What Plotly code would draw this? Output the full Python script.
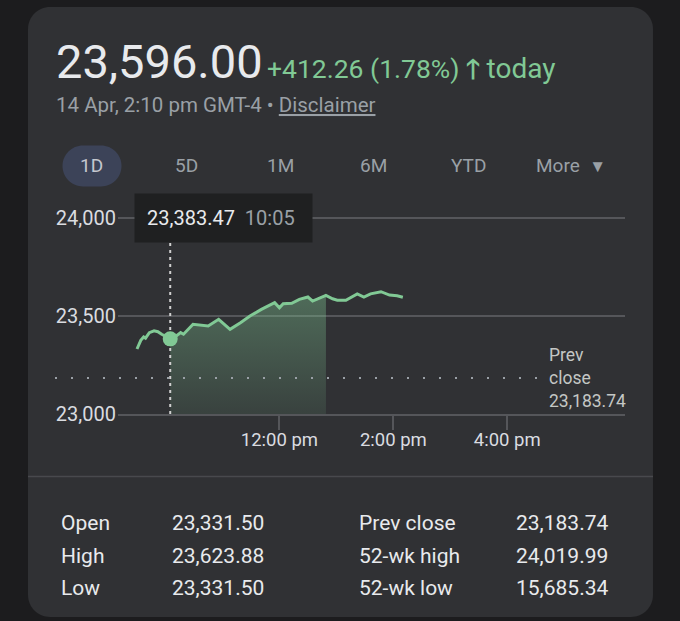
import plotly.graph_objects as go

W, H = 680, 621
FIG_H = 633  # page is photographed slightly taller than the window; paper fractions stay the same
DAY = "2025-04-14"

# ---------------- data ----------------
times = ["09:30", "09:34", "09:37", "09:39", "09:43", "09:48", "09:52", "09:56",
         "10:05", "10:10", "10:16", "10:19", "10:29", "10:37", "10:45", "10:56",
         "11:08", "11:19", "11:26", "11:29", "11:41", "11:55", "12:00", "12:04",
         "12:13", "12:21", "12:30", "12:35", "12:49", "12:56", "13:01", "13:10",
         "13:22", "13:29", "13:36", "13:47", "13:56", "14:04", "14:10"]
values = [23331.50, 23376, 23393, 23387, 23415, 23424, 23420, 23407,
          23383.47, 23393, 23415, 23407, 23458, 23454, 23449, 23483,
          23432, 23466, 23491, 23500, 23534, 23568, 23542, 23563,
          23565, 23585, 23597, 23576, 23605, 23588, 23581, 23580,
          23613, 23597, 23613, 23623.88, 23607, 23603, 23596.00]

hover_time = "10:05"
hover_value = 23383.47
sel_end_time = "12:49"
prev_close = 23183.74

y_ticks = [23000, 23500, 24000]
y_tick_labels = ["23,000", "23,500", "24,000"]
x_ticks = ["12:00", "14:00", "16:00"]
x_tick_labels = ["12:00 pm", "2:00 pm", "4:00 pm"]
x_range = ["09:10", "18:04"]
y_range = [23000, 24050]

price = "23,596.00"
change = "+412.26 (1.78%)"
timestamp = "14 Apr, 2:10 pm GMT-4"
tabs = ["1D", "5D", "1M", "6M", "YTD", "More"]
stat_labels_left = ["Open", "High", "Low"]
stat_values_left = ["23,331.50", "23,623.88", "23,331.50"]
stat_labels_right = ["Prev close", "52-wk high", "52-wk low"]
stat_values_right = ["23,183.74", "24,019.99", "15,685.34"]

# ---------------- style ----------------
FONT = "Roboto"
BG = "#1c1c1e"
CARD = "#303134"
GRID = "#55565a"
TEXT = "#e8eaed"
SUB = "#9aa0a6"
GREEN = "#81c995"
TIP = "#1f2021"
PILL = "#3c4358"


def ts(t):
    return f"{DAY} {t}:00"


def px(x):
    return x / W


def py(y):
    return 1 - y / H


def rrect(x0, y0, x1, y1, r):
    k = 0.5523 * r
    pts = [
        ("M", [(x0 + r, y0)]), ("L", [(x1 - r, y0)]),
        ("C", [(x1 - r + k, y0), (x1, y0 + r - k), (x1, y0 + r)]),
        ("L", [(x1, y1 - r)]),
        ("C", [(x1, y1 - r + k), (x1 - r + k, y1), (x1 - r, y1)]),
        ("L", [(x0 + r, y1)]),
        ("C", [(x0 + r - k, y1), (x0, y1 - r + k), (x0, y1 - r)]),
        ("L", [(x0, y0 + r)]),
        ("C", [(x0, y0 + r - k), (x0 + r - k, y0), (x0 + r, y0)]),
    ]
    s = ""
    for cmd, ps in pts:
        s += cmd + " ".join(f"{px(a):.5f},{py(b):.5f}" for a, b in ps) + " "
    return s + "Z"


xs = [ts(t) for t in times]
sel_x = [ts(t) for t in times if hover_time <= t <= sel_end_time]
sel_y = [v for t, v in zip(times, values) if hover_time <= t <= sel_end_time]

fig = go.Figure()

# shaded selection
fig.add_trace(go.Scatter(
    x=sel_x, y=sel_y, mode="lines", line=dict(width=0, color=GREEN),
    fill="tozeroy",
    fillgradient=dict(type="vertical", start=y_range[0], stop=max(sel_y),
                      colorscale=[[0, "rgba(129,201,149,0.10)"],
                                  [1, "rgba(129,201,149,0.38)"]]),
    hoverinfo="skip", showlegend=False))

# hover vertical dotted line
fig.add_trace(go.Scatter(
    x=[ts(hover_time), ts(hover_time)], y=[y_ticks[0], y_ticks[-1]],
    mode="lines", line=dict(color="#d0d0d0", width=2, dash="3px,4px"),
    hoverinfo="skip", showlegend=False))

# price line
fig.add_trace(go.Scatter(
    x=xs, y=values, mode="lines", line=dict(color=GREEN, width=3),
    hoverinfo="skip", showlegend=False))

# hover marker
fig.add_trace(go.Scatter(
    x=[ts(hover_time)], y=[hover_value], mode="markers",
    marker=dict(color=GREEN, size=15), hoverinfo="skip", showlegend=False))

shapes = [
    dict(type="path", xref="paper", yref="paper", path=rrect(28, 5, 653, 617, 22),
         fillcolor=CARD, line=dict(width=0), layer="below"),
    dict(type="path", xref="paper", yref="paper", path=rrect(62.5, 144, 121.5, 185, 20.5),
         fillcolor=PILL, line=dict(width=0), layer="below"),
    dict(type="line", xref="paper", yref="paper", x0=px(28), x1=px(653),
         y0=py(476), y1=py(476), line=dict(color="#48494d", width=1.5), layer="below"),
    dict(type="line", xref="paper", yref="y", x0=px(55), x1=px(542),
         y0=prev_close, y1=prev_close,
         line=dict(color=SUB, width=2, dash="2px,14px"), layer="above"),
]

ann = []


def text(x, y, s, size, color, anchor="left"):
    ann.append(dict(x=px(x), y=py(y), xref="paper", yref="paper", text=s,
                    showarrow=False, xanchor=anchor, yanchor="middle",
                    font=dict(family=FONT, size=size, color=color)))


text(54, 60, price, 47, TEXT)
text(265, 67, change + " <b>🡑</b> <span style='font-size:28px'>today</span>", 26.5, GREEN)
text(54, 103, timestamp + " • <u>Disclaimer</u>", 20.5, SUB)

tab_x = [91.5, 186, 280, 373, 468, 571]
for t, x in zip(tabs, tab_x):
    label = t if t != "More" else "More  <span style='font-size:17px'>▼</span>"
    text(x, 164.5, label, 19, SUB if t != "1D" else "#c4c7cf", anchor="center")

# tooltip
ann.append(dict(x=ts(hover_time), y=y_ticks[-1], xref="x", yref="y",
                text=f"{hover_value:,.2f}  <span style='color:#9aa0a6'>{hover_time}</span> ",
                showarrow=False, xanchor="left", yanchor="middle", xshift=-36,
                bgcolor=TIP, borderpad=12,
                font=dict(family=FONT, size=20, color=TEXT)))

# prev close label
ann.append(dict(x=px(547), y=prev_close, xref="paper", yref="y",
                text=f"Prev<br>close<br>{prev_close:,.2f}", showarrow=False,
                xanchor="left", yanchor="middle", align="left",
                font=dict(family=FONT, size=17.5, color="#c4c7c5")))

rows_y = [523, 556, 588]
for lab, val, y in zip(stat_labels_left, stat_values_left, rows_y):
    text(59, y, lab, 21, TEXT)
    text(170, y, val, 21, TEXT)
for lab, val, y in zip(stat_labels_right, stat_values_right, rows_y):
    text(357, y, lab, 21, TEXT)
    text(514, y, val, 21, TEXT)

fig.update_layout(
    width=W, height=FIG_H, margin=dict(l=0, r=0, t=0, b=0),
    paper_bgcolor=BG, plot_bgcolor="rgba(0,0,0,0)",
    shapes=shapes, annotations=ann, showlegend=False,
    xaxis=dict(domain=[px(118), px(625)], type="date",
               range=[ts(x_range[0]), ts(x_range[1])],
               tickvals=[ts(t) for t in x_ticks], ticktext=x_tick_labels,
               showgrid=False, zeroline=False, showline=True, linecolor=GRID, linewidth=1.5,
               ticks="outside", ticklen=14, tickwidth=1.5, tickcolor=GRID,
               ticklabelstandoff=-6,
               tickfont=dict(family=FONT, size=18.5, color="#dadce0")),
    yaxis=dict(domain=[py(413.3), py(206.9)], range=y_range,
               tickvals=y_ticks, ticktext=y_tick_labels,
               showgrid=True, gridcolor=GRID, gridwidth=1.5, zeroline=False,
               showline=False, ticks="", ticklabelstandoff=1,
               tickfont=dict(family=FONT, size=20, color="#dadce0")),
)

fig.write_html("out.html", config={"displayModeBar": False},
               post_script="document.body.style.margin='0';document.body.style.overflow='hidden';document.body.style.background='#1c1c1e';")
